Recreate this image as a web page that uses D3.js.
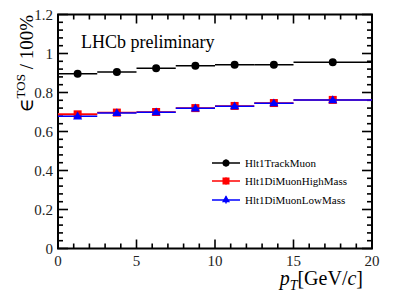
<!DOCTYPE html>
<html><head><meta charset="utf-8">
<script src="https://cdn.jsdelivr.net/npm/d3@7.9.0/dist/d3.min.js"></script>
<style>body{margin:0;background:#fff}</style>
</head><body><svg width="414" height="297" font-family="'Liberation Serif','Times New Roman','DejaVu Serif',serif"></svg>
<script>
const binEdges=[0,2.5,5,7.5,10,12.5,15,20];
const trackMuon=[0.896,0.905,0.924,0.937,0.942,0.942,0.955];
const diMuonHigh=[0.688,0.697,0.700,0.720,0.731,0.746,0.762];
const diMuonLow=[0.678,0.695,0.699,0.719,0.730,0.745,0.761];
const xTicks=[0,5,10,15,20];
const yTicks=[0,0.2,0.4,0.6,0.8,1,1.2];
const seriesNames=["Hlt1TrackMuon","Hlt1DiMuonHighMass","Hlt1DiMuonLowMass"];
const seriesColors=["#000","#ff0000","#0000ff"];

const svg=d3.select('svg'),L=58,R=372,T=14.5,B=248.5;
const x=d3.scaleLinear().domain([0,20]).range([L,R]);
const y=d3.scaleLinear().domain([0,1.2]).range([B,T]);
const g=svg.append('g');
// frame
g.append('rect').attr('x',L).attr('y',T).attr('width',R-L).attr('height',B-T).attr('fill','none').attr('stroke','#000').attr('stroke-width',2);
// ticks
const xt=d3.range(0,20.01,1),yt=d3.range(0,1.2001,0.04);
xt.forEach(v=>{const len=v%5===0?9:5;
 g.append('line').attr('x1',x(v)).attr('x2',x(v)).attr('y1',B).attr('y2',B-len).attr('stroke','#000').attr('stroke-width',1.6);
 g.append('line').attr('x1',x(v)).attr('x2',x(v)).attr('y1',T).attr('y2',T+len).attr('stroke','#000').attr('stroke-width',1.6);});
yt.forEach(v=>{const maj=Math.abs(v*5-Math.round(v*5))<1e-6,len=maj?10:5;
 g.append('line').attr('x1',L).attr('x2',L+len).attr('y1',y(v)).attr('y2',y(v)).attr('stroke','#000').attr('stroke-width',1.6);
 g.append('line').attr('x1',R).attr('x2',R-len).attr('y1',y(v)).attr('y2',y(v)).attr('stroke','#000').attr('stroke-width',1.6);});
g.selectAll('.xl').data(xTicks).enter().append('text').attr('x',d=>x(d)).attr('y',266).attr('text-anchor','middle').attr('font-size',15).attr('fill','#222').text(d=>d);
g.selectAll('.yl').data(yTicks).enter().append('text').attr('x',53).attr('y',d=>y(d)+5).attr('text-anchor','end').attr('font-size',15).attr('fill','#222').text(d=>d);
// labels
svg.append('text').attr('x',81).attr('y',48).attr('font-size',18).text('LHCb preliminary');
const xl=svg.append('text').attr('x',363).attr('y',285).attr('text-anchor','end').attr('font-size',20);
xl.append('tspan').attr('font-style','italic').text('p');
xl.append('tspan').attr('font-size',14).attr('font-style','italic').attr('dy',5).text('T');
xl.append('tspan').attr('dy',-5).text('[GeV/');
xl.append('tspan').attr('font-style','italic').text('c');
xl.append('tspan').text(']');
const yl=svg.append('text').attr('transform','translate(33,15) rotate(-90)').attr('text-anchor','end').attr('font-size',19);
yl.append('tspan').text('\u2208');
yl.append('tspan').attr('font-size',13).attr('dy',-8).text('TOS');
yl.append('tspan').attr('dy',8).text(' / 100%');
// series
const all=[trackMuon,diMuonHigh,diMuonLow];
all.forEach((vals,si)=>{
 const c=seriesColors[si];
 vals.forEach((v,i)=>{
  const x0=binEdges[i],x1=binEdges[i+1],xc=(x0+x1)/2;
  if(si===1&&i===0)g.append('rect').attr('x',x(x0)).attr('y',y(v+0.006)).attr('width',x(x1)-x(x0)).attr('height',y(v-0.006)-y(v+0.006)).attr('fill','#ff8080');
  g.append('line').attr('x1',x(x0)).attr('x2',x(x1)).attr('y1',y(v)).attr('y2',y(v)).attr('stroke',c).attr('stroke-width',1.5);
  if(si===0)g.append('circle').attr('cx',x(xc)).attr('cy',y(v)).attr('r',4).attr('fill',c);
  else if(si===1)g.append('rect').attr('x',x(xc)-4).attr('y',y(v)-4).attr('width',8).attr('height',8).attr('fill',c);
  else g.append('path').attr('d',d3.symbol(d3.symbolTriangle,36)()).attr('transform',`translate(${x(xc)},${y(v)+0.5})`).attr('fill',c);
 });
});
// legend
const ly=[163,181,200];
seriesNames.forEach((n,i)=>{
 const c=seriesColors[i],yy=ly[i];
 svg.append('line').attr('x1',212).attr('x2',240).attr('y1',yy).attr('y2',yy).attr('stroke',c).attr('stroke-width',1.5);
 svg.append('line').attr('x1',226).attr('x2',226).attr('y1',yy-3.5).attr('y2',yy+3.5).attr('stroke',c).attr('stroke-width',1.5);
 if(i===0)svg.append('circle').attr('cx',226).attr('cy',yy).attr('r',3.5).attr('fill',c);
 else if(i===1)svg.append('rect').attr('x',222.5).attr('y',yy-3.5).attr('width',7).attr('height',7).attr('fill',c);
 else svg.append('path').attr('d',d3.symbol(d3.symbolTriangle,28)()).attr('transform',`translate(226,${yy})`).attr('fill',c);
 svg.append('text').attr('x',245).attr('y',yy+3.5).attr('font-size',11).text(n);
});
</script></body></html>
